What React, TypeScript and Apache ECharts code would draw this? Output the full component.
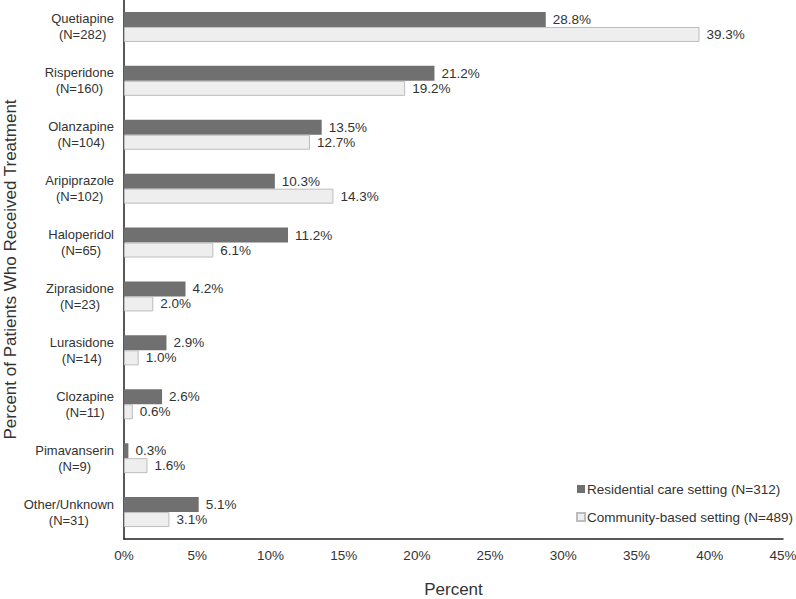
import React, { useEffect, useRef } from "react";
import * as echarts from "echarts";

const categories = [
  "Quetiapine\n(N=282)",
  "Risperidone\n(N=160)",
  "Olanzapine\n(N=104)",
  "Aripiprazole\n(N=102)",
  "Haloperidol\n(N=65)",
  "Ziprasidone\n(N=23)",
  "Lurasidone\n(N=14)",
  "Clozapine\n(N=11)",
  "Pimavanserin\n(N=9)",
  "Other/Unknown\n(N=31)",
];
const residential = [28.8, 21.2, 13.5, 10.3, 11.2, 4.2, 2.9, 2.6, 0.3, 5.1];
const community = [39.3, 19.2, 12.7, 14.3, 6.1, 2.0, 1.0, 0.6, 1.6, 3.1];
const seriesNames = ["Residential care setting (N=312)", "Community-based setting (N=489)"];

const FONT = "'Liberation Sans', Arial, sans-serif";

export default function App() {
  const ref = useRef<HTMLDivElement>(null);
  useEffect(() => {
    if (!ref.current) return;
    const chart = echarts.init(ref.current, null, { renderer: "svg" });
    const label = {
      show: true,
      position: "right",
      distance: 7,
      color: "#333",
      fontSize: 13.5,
      fontFamily: FONT,
      formatter: (p: any) => p.value.toFixed(1) + "%",
    };
    chart.setOption({
      animation: false,
      textStyle: { fontFamily: FONT },
      grid: {
        left: 124,
        right: 13,
        top: 0,
        bottom: 60,
        containLabel: false,
        outerBoundsMode: "none",
      },
      legend: {
        orient: "vertical",
        left: 571,
        top: 477,
        itemWidth: 8,
        itemHeight: 8,
        itemGap: 14,
        icon: "rect",
        textStyle: { fontSize: 13.5, color: "#333", fontFamily: FONT, padding: [0, 0, 0, -3] },
        data: seriesNames,
      },
      xAxis: {
        type: "value",
        min: 0,
        max: 45,
        interval: 5,
        name: "Percent",
        nameLocation: "middle",
        nameGap: 42,
        nameMoveOverlap: false,
        nameTextStyle: { fontSize: 17, color: "#333", fontFamily: FONT },
        axisLine: { show: true, lineStyle: { color: "#222", width: 1.5 } },
        axisTick: { show: false },
        splitLine: { show: false },
        axisLabel: {
          formatter: (v: number) => v + "%",
          fontSize: 13.5,
          color: "#333",
          margin: 9,
          fontFamily: FONT,
        },
      },
      yAxis: {
        type: "category",
        inverse: true,
        data: categories,
        name: "Percent of Patients Who Received Treatment",
        nameLocation: "middle",
        nameGap: 105,
        nameMoveOverlap: false,
        nameTextStyle: { fontSize: 17, color: "#333", fontFamily: FONT },
        axisLine: { show: true, lineStyle: { color: "#222", width: 1.5 } },
        axisTick: { show: false },
        axisLabel: {
          margin: 10,
          align: "right",
          formatter: (v: string) =>
            v
              .split("\n")
              .map((l) => `{c|${l}}`)
              .join("\n"),
          rich: {
            c: { align: "center", fontSize: 13, lineHeight: 16, color: "#333", fontFamily: FONT },
          },
        },
      },
      series: [
        {
          name: seriesNames[0],
          type: "bar",
          data: residential,
          barWidth: 15,
          barGap: "0%",
          itemStyle: { color: "#707070" },
          label,
        },
        {
          name: seriesNames[1],
          type: "bar",
          data: community,
          barWidth: 15,
          barGap: "0%",
          itemStyle: { color: "#eeeeee", borderColor: "#bdbdbd", borderWidth: 1 },
          label,
        },
      ],
    });
    return () => chart.dispose();
  }, []);
  return <div ref={ref} style={{ position: "absolute", left: 0, top: 0, width: 796, height: 599 }} />;
}
